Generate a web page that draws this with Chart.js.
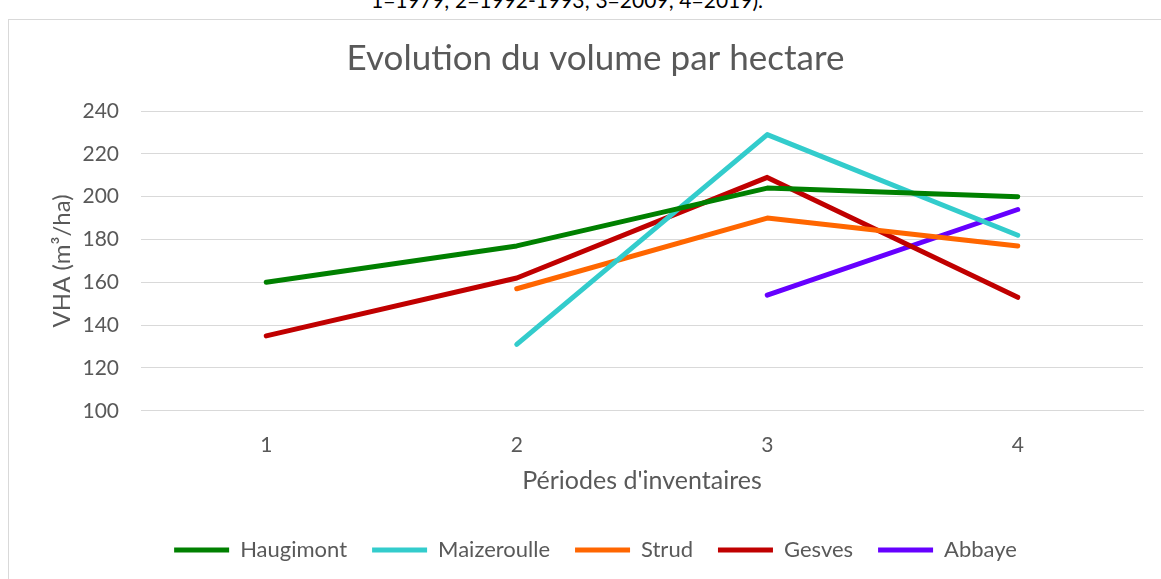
<!DOCTYPE html>
<html>
<head>
<meta charset="utf-8">
<script src="https://cdn.jsdelivr.net/npm/chart.js@4"></script>
<style>
  html, body { margin: 0; padding: 0; background: #fff; overflow: hidden; }
  #caption {
    position: absolute; left: 371px; top: -13px;
    font-family: Lato, sans-serif; font-size: 21px; color: #000; white-space: nowrap;
  }
  #frame {
    position: absolute; left: 8px; top: 19px; width: 1200px; height: 600px;
    border-left: 1px solid #d9d9d9; border-top: 1px solid #d9d9d9;
  }
  #wrap { position: absolute; left: 0; top: 0; width: 1161px; height: 579px; }
</style>
</head>
<body>
<div id="caption">1=1979; 2=1992-1993; 3=2009; 4=2019).</div>
<div id="frame"></div>
<div id="wrap"><canvas id="chart"></canvas></div>
<script>
// périodes d'inventaire
const periods = ['1', '2', '3', '4'];

// VHA (m³/ha) par site
const haugimont = [160, 177, 204, 200];
const maizeroulle = [null, 131, 229, 182];
const strud = [null, 157, 190, 177];
const gesves = [135, 162, 209, 153];
const abbaye = [null, null, 154, 194];

const yTicks = [100, 120, 140, 160, 180, 200, 220, 240];

const textColor = '#595959';
const gridColor = '#d9d9d9';

function series(label, data, color) {
    return {
        label,
        data,
        borderColor: color,
        backgroundColor: color,
        borderWidth: 5,
        borderCapStyle: 'round',
        borderJoinStyle: 'round',
        pointRadius: 0,
        pointHoverRadius: 0,
        pointStyle: 'line',
        tension: 0,
        spanGaps: false,
    };
}

const data = {
    labels: periods,
    datasets: [
        series('Haugimont', haugimont, '#008000'),
        series('Maizeroulle', maizeroulle, '#33cccc'),
        series('Strud', strud, '#ff6600'),
        series('Gesves', gesves, '#c00000'),
        series('Abbaye', abbaye, '#6600ff'),
    ],
};

const options = {
    responsive: true,
    maintainAspectRatio: false,
    animation: false,
    layout: { padding: { left: 48, right: 18, top: 38, bottom: 8 } },
    scales: {
        x: {
            offset: true,
            grid: { display: false, drawTicks: false },
            border: { display: true, color: gridColor, width: 1 },
            ticks: { color: textColor, font: { family: 'Lato', size: 21 }, padding: 22 },
            title: {
                display: true,
                text: "Périodes d'inventaires",
                color: textColor,
                font: { family: 'Lato', size: 25 },
                padding: { top: -14, bottom: 18 },
            },
        },
        y: {
            min: 100,
            max: 240,
            afterBuildTicks: axis => { axis.ticks = yTicks.map(v => ({ value: v })); },
            afterFit: axis => { axis.width = 93; },
            grid: { color: gridColor, lineWidth: 1, drawTicks: false },
            border: { display: false },
            ticks: { color: textColor, font: { family: 'Lato', size: 21 }, padding: 22 },
            title: {
                display: true,
                text: 'VHA (m³/ha)',
                color: textColor,
                font: { family: 'Lato', size: 24 },
                padding: { top: 0, bottom: 0 },
            },
        },
    },
    plugins: {
        title: {
            display: true,
            text: 'Evolution du volume par hectare',
            color: textColor,
            font: { family: 'Lato', size: 35, weight: 'normal' },
            padding: { top: 0, bottom: 31 },
        },
        legend: {
            display: true,
            position: 'bottom',
            labels: {
                usePointStyle: true,
                pointStyleWidth: 55,
                boxHeight: 20,
                color: textColor,
                font: { family: 'Lato', size: 22 },
                padding: 25,
            },
        },
        tooltip: { enabled: false },
    },
};

new Chart(document.getElementById('chart'), { type: 'line', data, options });
</script>
</body>
</html>
